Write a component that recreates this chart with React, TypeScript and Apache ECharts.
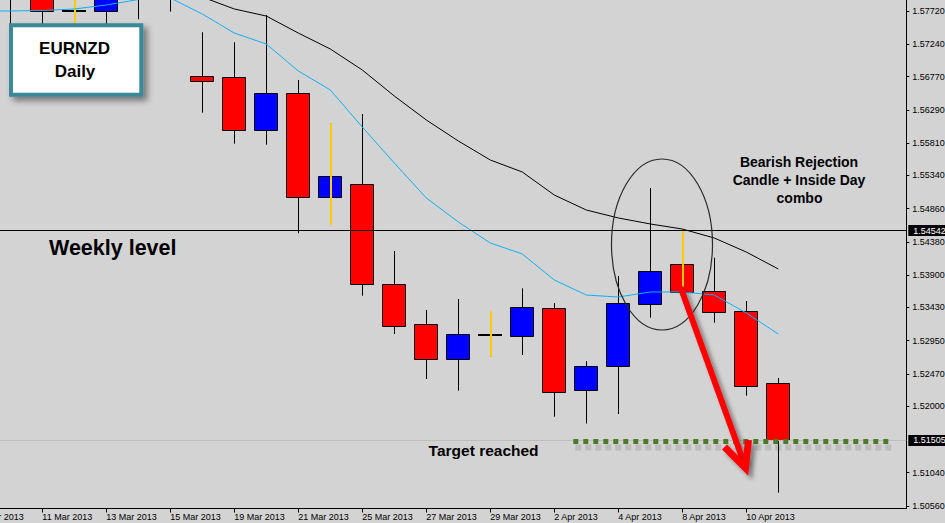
import React, { useEffect, useRef } from "react";
import * as echarts from "echarts";

// Category axis (trading days, plus empty chart-shift slots on the right)
const dates = [
  "7 Mar 2013", "8 Mar 2013", "11 Mar 2013", "12 Mar 2013", "13 Mar 2013", "14 Mar 2013",
  "15 Mar 2013", "18 Mar 2013", "19 Mar 2013", "20 Mar 2013", "21 Mar 2013", "22 Mar 2013",
  "25 Mar 2013", "26 Mar 2013", "27 Mar 2013", "28 Mar 2013", "29 Mar 2013", "1 Apr 2013",
  "2 Apr 2013", "3 Apr 2013", "4 Apr 2013", "5 Apr 2013", "8 Apr 2013", "9 Apr 2013",
  "10 Apr 2013", "11 Apr 2013", "12 Apr 2013", "15 Apr 2013", "16 Apr 2013", "17 Apr 2013",
];
const lastLabelledIndex = 24;

const opens = [
  1.5862, 1.58458, 1.58168, 1.5772, 1.57724, 1.58111, 1.57995, 1.56775, 1.5676, 1.55994,
  1.56529, 1.55024, 1.55212, 1.53765, 1.53186, 1.5268, 1.53032, 1.53022, 1.53418, 1.52231,
  1.52587, 1.53476, 1.54055, 1.53664, 1.53375, 1.52333,
];
const closes = [
  1.5849, 1.57966, 1.57715, 1.5772, 1.58096, 1.57966, 1.57893, 1.56703, 1.55994, 1.56529,
  1.55024, 1.55328, 1.53765, 1.53166, 1.5268, 1.53042, 1.53032, 1.53432, 1.52202, 1.52579,
  1.5349, 1.53953, 1.53658, 1.53369, 1.52289, 1.51505,
];
const lows = [
  1.584, 1.57373, 1.57445, 1.57445, 1.57474, 1.576, 1.5771, 1.56248, 1.558, 1.55785,
  1.54503, 1.54623, 1.536, 1.53046, 1.52395, 1.52226, 1.52718, 1.52742, 1.51849, 1.51751,
  1.51888, 1.53282, 1.53658, 1.53209, 1.52153, 1.5075,
];
const highs = [
  1.587, 1.58603, 1.58313, 1.57995, 1.58241, 1.58313, 1.58168, 1.57412, 1.57267, 1.57662,
  1.56721, 1.56095, 1.56229, 1.54247, 1.53393, 1.53552, 1.53379, 1.53707, 1.53495, 1.52655,
  1.53885, 1.55159, 1.54561, 1.5415, 1.53523, 1.52409,
];
const yellowWickDays = ["12 Mar 2013", "22 Mar 2013", "29 Mar 2013", "8 Apr 2013"];

const maFast = [
  1.5772, 1.5772, 1.57727, 1.57749, 1.57807, 1.57886, 1.57908, 1.57676, 1.57401, 1.57242,
  1.56852, 1.56577, 1.56041, 1.5552, 1.55014, 1.54667, 1.54363, 1.54204, 1.53827, 1.5361,
  1.53581, 1.53654, 1.53654, 1.5361, 1.5335, 1.53046,
];
const maSlow = [
  1.5866, 1.58574, 1.58487, 1.58385, 1.58284, 1.58168, 1.58053, 1.57922, 1.57749, 1.57647,
  1.57401, 1.5717, 1.56866, 1.5649, 1.56143, 1.55839, 1.55564, 1.5539, 1.55057, 1.5484,
  1.54725, 1.54638, 1.54565, 1.54435, 1.54232, 1.53987,
];

const priceTicks = [
  1.5056, 1.5104, 1.52, 1.5247, 1.5295, 1.5343, 1.539, 1.5438, 1.5486, 1.5534, 1.5581,
  1.5629, 1.5677, 1.5724, 1.5772,
];
const weeklyLevel = 1.54542;
const lastPrice = 1.51505;
const yMin = 1.50521;
const yMax = 1.57879;

const FONT = '"Liberation Sans", Arial, sans-serif';

export default function App() {
  const ref = useRef<HTMLDivElement>(null);

  useEffect(() => {
    if (!ref.current) return;
    const chart = echarts.init(ref.current, undefined, { renderer: "svg" });

    const candleData = opens.map((o, i) => [
      i, o, closes[i], lows[i], highs[i], yellowWickDays.includes(dates[i]) ? 1 : 0,
    ]);

    const tagLabel = {
      show: true,
      position: "end",
      distance: 2,
      color: "#fff",
      backgroundColor: "#000",
      padding: [1, 3, 0, 5],
      fontSize: 9,
      lineHeight: 10,
      fontFamily: FONT,
      formatter: (p: any) => Number(p.value).toFixed(5),
    };

    const option: any = {
      animation: false,
      backgroundColor: "#d3d3d3",
      grid: {
        left: -21.7,
        right: 38.7,
        top: 0,
        bottom: 14.5,
        outerBoundsMode: "none",
        containLabel: false,
      },
      xAxis: {
        type: "category",
        data: dates,
        boundaryGap: false,
        axisLine: { show: true, lineStyle: { color: "#000", width: 1 } },
        axisTick: {
          show: true,
          length: 4,
          interval: (i: number) => i % 2 === 0 && i <= lastLabelledIndex,
          lineStyle: { color: "#000" },
        },
        axisLabel: {
          show: true,
          interval: (i: number) => i % 2 === 0 && i <= lastLabelledIndex,
          align: "left",
          margin: 4,
          fontSize: 9,
          color: "#000",
          fontFamily: FONT,
        },
        splitLine: { show: false },
      },
      yAxis: {
        type: "value",
        position: "right",
        min: yMin,
        max: yMax,
        axisLine: { show: true, lineStyle: { color: "#000", width: 1 } },
        axisTick: {
          show: true,
          length: 3,
          customValues: priceTicks,
          lineStyle: { color: "#000" },
        },
        axisLabel: {
          show: true,
          customValues: priceTicks,
          margin: 6,
          fontSize: 9,
          color: "#000",
          fontFamily: FONT,
          formatter: (v: number) => v.toFixed(5),
        },
        splitLine: { show: false },
      },
      series: [
        {
          type: "custom",
          name: "EURNZD",
          z: 2,
          clip: true,
          dimensions: ["idx", "open", "close", "low", "high", "yellow"],
          encode: { x: 0, y: [1, 2, 3, 4] },
          data: candleData,
          renderItem: (_params: any, api: any) => {
            const i = api.value(0);
            const o = api.value(1);
            const c = api.value(2);
            const l = api.value(3);
            const h = api.value(4);
            const yellow = api.value(5) === 1;
            const pO = api.coord([i, o]);
            const pC = api.coord([i, c]);
            const pL = api.coord([i, l]);
            const pH = api.coord([i, h]);
            const xc = Math.floor(pO[0]);
            const half = Math.round(api.size([1, 0])[0] * 0.375);
            const top = Math.round(Math.min(pO[1], pC[1]));
            const bot = Math.round(Math.max(pO[1], pC[1]));
            const children: any[] = [
              {
                type: "line",
                shape: { x1: xc + 0.5, y1: pH[1], x2: xc + 0.5, y2: pL[1] },
                style: { stroke: "#000", lineWidth: 1 },
              },
            ];
            if (o === c) {
              children.push({
                type: "line",
                shape: { x1: xc - half, y1: top, x2: xc + half, y2: top },
                style: { stroke: "#000", lineWidth: 2 },
              });
            } else {
              children.push({
                type: "rect",
                shape: { x: xc - half + 0.5, y: top + 0.5, width: 2 * half - 1, height: bot - top },
                style: { fill: c > o ? "#0000ff" : "#ff0000", stroke: "#000", lineWidth: 1 },
              });
            }
            if (yellow) {
              children.push({
                type: "line",
                shape: { x1: xc + 1, y1: pH[1], x2: xc + 1, y2: pL[1] },
                style: { stroke: "#ffcc00", lineWidth: 2 },
              });
            }
            return { type: "group", children };
          },
        },
        {
          type: "line",
          name: "MA fast",
          z: 3,
          data: maFast,
          symbol: "none",
          lineStyle: { color: "#0fb0f5", width: 1 },
          itemStyle: { color: "#0fb0f5" },
        },
        {
          type: "line",
          name: "MA slow",
          z: 3,
          data: maSlow,
          symbol: "none",
          lineStyle: { color: "#000", width: 1 },
          itemStyle: { color: "#000" },
          markLine: {
            silent: true,
            symbol: ["none", "none"],
            precision: 5,
            animation: false,
            data: [
              {
                yAxis: weeklyLevel,
                lineStyle: { color: "#000", width: 1, type: "solid" },
                label: tagLabel,
              },
              {
                yAxis: lastPrice,
                lineStyle: { color: "#bdbdbd", width: 1, type: "solid" },
                label: tagLabel,
              },
            ],
          },
        },
      ],
      graphic: [
        {
          type: "rect",
          z: 100,
          shape: { x: 11, y: 25.3, width: 130.3, height: 69.4 },
          style: {
            fill: "#fff",
            stroke: "#3b8898",
            lineWidth: 4,
            shadowBlur: 6,
            shadowOffsetX: 4,
            shadowOffsetY: 4,
            shadowColor: "rgba(0,0,0,0.45)",
          },
        },
        {
          type: "text",
          z: 101,
          x: 74.5,
          y: 48.5,
          style: {
            text: "EURNZD",
            font: `bold 17px ${FONT}`,
            fill: "#000",
            align: "center",
            verticalAlign: "middle",
          },
        },
        {
          type: "text",
          z: 101,
          x: 75,
          y: 71,
          style: {
            text: "Daily",
            font: `bold 17px ${FONT}`,
            fill: "#000",
            align: "center",
            verticalAlign: "middle",
          },
        },
        {
          type: "text",
          z: 101,
          x: 49,
          y: 248,
          style: {
            text: "Weekly level",
            font: `bold 21.5px ${FONT}`,
            fill: "#000",
            align: "left",
            verticalAlign: "middle",
          },
        },
        {
          type: "text",
          z: 101,
          x: 428.6,
          y: 450.5,
          style: {
            text: "Target reached",
            font: `bold 15.5px ${FONT}`,
            fill: "#000",
            align: "left",
            verticalAlign: "middle",
          },
        },
        {
          type: "text",
          z: 101,
          x: 799,
          y: 162.4,
          style: {
            text: "Bearish Rejection",
            font: `bold 14px ${FONT}`,
            fill: "#000",
            align: "center",
            verticalAlign: "middle",
          },
        },
        {
          type: "text",
          z: 101,
          x: 799,
          y: 180.1,
          style: {
            text: "Candle + Inside Day",
            font: `bold 14px ${FONT}`,
            fill: "#000",
            align: "center",
            verticalAlign: "middle",
          },
        },
        {
          type: "text",
          z: 101,
          x: 799.5,
          y: 197.8,
          style: {
            text: "combo",
            font: `bold 14px ${FONT}`,
            fill: "#000",
            align: "center",
            verticalAlign: "middle",
          },
        },
        {
          type: "ellipse",
          z: 102,
          shape: { cx: 662, cy: 244.5, rx: 50.5, ry: 85.5 },
          style: { fill: "none", stroke: "#2a2a2a", lineWidth: 1.2 },
        },
        // soft shadow under the green target line
        {
          type: "line",
          z: 102,
          shape: { x1: 575.3, y1: 447.5, x2: 891.3, y2: 447.5 },
          style: {
            stroke: "rgba(70,70,70,0.16)",
            lineWidth: 6,
            lineDash: [6, 4],
          },
        },
        {
          type: "line",
          z: 103,
          shape: { x1: 573.3, y1: 441.5, x2: 889.3, y2: 441.5 },
          style: {
            stroke: "#4b7a28",
            lineWidth: 5,
            lineDash: [5, 5],
          },
        },
        {
          type: "line",
          z: 104,
          shape: { x1: 680.5, y1: 287, x2: 744, y2: 463 },
          style: {
            stroke: "#ff0000",
            lineWidth: 6,
            shadowBlur: 4,
            shadowOffsetX: 4,
            shadowOffsetY: 4,
            shadowColor: "rgba(0,0,0,0.4)",
          },
        },
        {
          type: "polyline",
          z: 104,
          shape: { points: [[724.5, 447], [745.5, 468], [748.5, 440]] },
          style: {
            stroke: "#ff0000",
            fill: "none",
            lineWidth: 7,
            lineJoin: "miter",
            shadowBlur: 4,
            shadowOffsetX: 4,
            shadowOffsetY: 4,
            shadowColor: "rgba(0,0,0,0.4)",
          },
        },
      ],
    };

    chart.setOption(option);
    return () => chart.dispose();
  }, []);

  return (
    <div
      ref={ref}
      style={{ position: "fixed", left: 0, top: 0, width: 945, height: 523 }}
    />
  );
}
